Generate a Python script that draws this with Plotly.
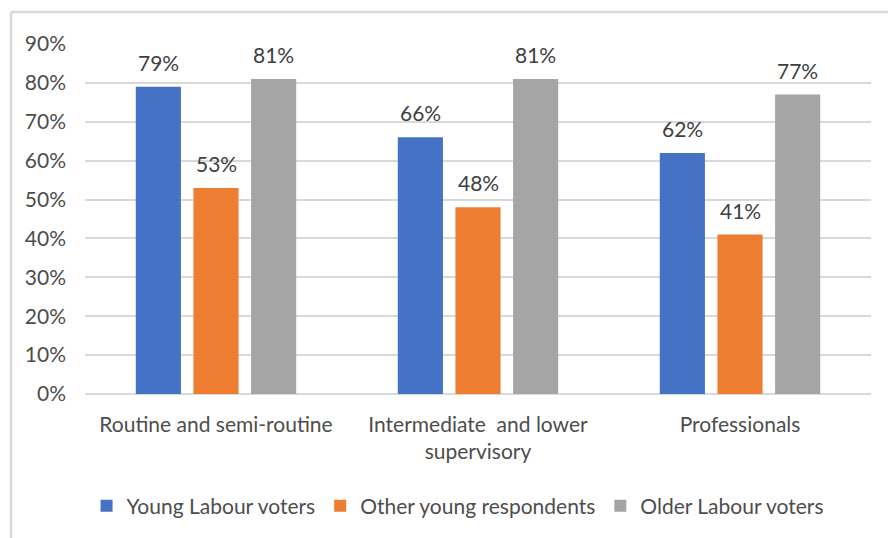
import plotly.graph_objects as go

# Social class groups along the x axis
categories = [
    "Routine and semi-routine",
    "Intermediate  and lower<br>supervisory",
    "Professionals",
]

# Share of each group, in percent
young_labour = [79, 66, 62]
other_young = [53, 48, 41]
older_labour = [81, 81, 77]

series_names = ["Young Labour voters", "Other young respondents", "Older Labour voters"]
series_colors = ["#4472C4", "#ED7D31", "#A5A5A5"]
series_values = [young_labour, other_young, older_labour]

y_ticks = [0, 10, 20, 30, 40, 50, 60, 70, 80, 90]
y_tick_text = [f"{v}%" for v in y_ticks]

FONT = "Lato, 'Open Sans', sans-serif"
TEXT_GREY = "#4d4d4d"
LABEL_GREY = "#404040"
GRID = "#D9D9D9"
FS = 21

fig = go.Figure()
for name, color, vals in zip(series_names, series_colors, series_values):
    fig.add_trace(go.Bar(
        x=categories,
        y=vals,
        name=name,
        marker=dict(color=color, line=dict(width=0)),
        hoverinfo="skip",
    ))

# Value labels sit a little above each bar
bargap = 0.34
groupgap = 0.217
plot_left, plot_right = 85, 871
cat_px = (plot_right - plot_left) / len(categories)
slot_px = cat_px * (1 - bargap) / len(series_values)
annotations = []
for i, vals in enumerate(series_values):
    shift = (i - (len(series_values) - 1) / 2) * slot_px
    for cat, v in zip(categories, vals):
        annotations.append(dict(
            x=cat, y=v, xref="x", yref="y",
            text=f"{v}%", showarrow=False,
            yanchor="bottom", xanchor="center",
            xshift=shift, yshift=10,
            font=dict(family=FONT, size=FS, color=LABEL_GREY),
        ))

# Light frame along the top and left of the chart area
plot_h = 394 - 44
frame_top = (394 - 12) / plot_h
frame_left = (11 - plot_left) / (plot_right - plot_left)
shapes = [
    dict(type="line", xref="paper", yref="paper",
         x0=frame_left, x1=(888 - plot_left) / (plot_right - plot_left),
         y0=frame_top, y1=frame_top, line=dict(color=GRID, width=2.5)),
    dict(type="line", xref="paper", yref="paper",
         x0=frame_left, x1=frame_left,
         y0=frame_top, y1=(394 - 540) / plot_h, line=dict(color=GRID, width=2.5)),
]

fig.update_layout(
    width=888, height=538,
    margin=dict(l=plot_left, r=888 - plot_right, t=44, b=538 - 394),
    paper_bgcolor="white", plot_bgcolor="white",
    barmode="group", bargap=bargap, bargroupgap=groupgap,
    font=dict(family=FONT, size=FS, color=TEXT_GREY),
    showlegend=True,
    legend=dict(
        orientation="h", x=0.474, xanchor="center",
        y=(394 - 506) / plot_h, yanchor="middle",
        font=dict(family=FONT, size=FS, color=TEXT_GREY),
        itemwidth=30, traceorder="normal",
    ),
    annotations=annotations,
    shapes=shapes,
    xaxis=dict(
        showgrid=False, zeroline=False, showline=False, ticks="",
        tickfont=dict(family=FONT, size=FS, color=TEXT_GREY),
        ticklabelstandoff=16,
    ),
    yaxis=dict(
        range=[0, 90], tickvals=y_ticks, ticktext=y_tick_text,
        showgrid=True, gridcolor=GRID, gridwidth=1.5,
        zeroline=True, zerolinecolor=GRID, zerolinewidth=1.5,
        showline=False, ticks="",
        tickfont=dict(family=FONT, size=FS, color=TEXT_GREY),
        ticklabelstandoff=18,
    ),
)

fig.write_html("out.html")
